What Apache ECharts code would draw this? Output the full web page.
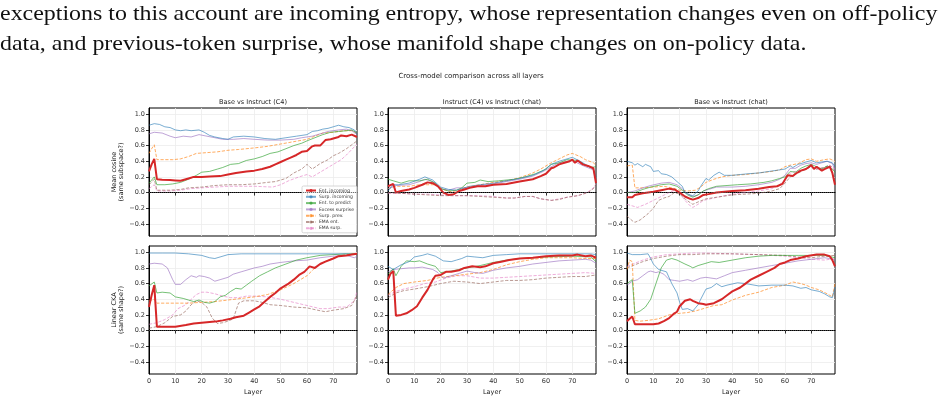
<!DOCTYPE html>
<html>
<head>
<meta charset="utf-8">
<script src="https://cdn.jsdelivr.net/npm/echarts@6/dist/echarts.min.js"></script>
<style>
  html, body { margin: 0; padding: 0; background: #fff; }
  #chart { width: 948px; height: 408px; }
</style>
</head>
<body>
<div id="chart"></div>
<script>
// ---- data: [layer, value] ----
const seriesNames = ['Ent. incoming', 'Surp. incoming', 'Ent. to predict', 'Excess surprise', 'Surp. prev.', 'EMA ent.', 'EMA surp.']
const panelTitles = ['Base vs Instruct (C4)', 'Instruct (C4) vs Instruct (chat)', 'Base vs Instruct (chat)']
const yTicks = [-0.4, -0.2, 0, 0.2, 0.4, 0.6, 0.8, 1.0]
const xTicks = [0, 10, 20, 30, 40, 50, 60, 70]

// Mean cosine, Base vs Instruct (C4)
const cos1_entIn = [[0,0.27],[1,0.36],[2,0.43],[3,0.17],[5,0.165],[8,0.16],[10,0.155],[12,0.15],[15,0.18],[17,0.2],[20,0.2],[23,0.205],[27,0.21],[30,0.23],[33,0.25],[37,0.27],[40,0.28],[43,0.3],[46,0.33],[48,0.36],[50,0.39],[52,0.42],[54,0.45],[56,0.48],[58,0.52],[60,0.53],[62,0.59],[63,0.6],[65,0.6],[67,0.67],[69,0.68],[71,0.7],[72,0.71],[73,0.73],[75,0.72],[77,0.74],[79,0.71]]
const cos1_surpIn = [[0,0.86],[2,0.88],[4,0.87],[6,0.84],[8,0.83],[10,0.8],[12,0.79],[14,0.8],[16,0.79],[19,0.8],[21,0.77],[23,0.73],[25,0.71],[28,0.69],[30,0.68],[32,0.71],[36,0.72],[40,0.71],[44,0.69],[48,0.68],[52,0.7],[56,0.72],[60,0.74],[62,0.78],[64,0.79],[66,0.81],[68,0.82],[70,0.84],[72,0.86],[74,0.84],[76,0.83],[78,0.8],[79,0.75]]
const cos1_entPred = [[0,0.12],[2,0.2],[3,0.1],[6,0.1],[9,0.11],[12,0.13],[15,0.17],[18,0.22],[20,0.26],[23,0.27],[26,0.3],[28,0.32],[31,0.36],[34,0.37],[37,0.41],[40,0.43],[43,0.46],[46,0.5],[49,0.52],[52,0.56],[55,0.6],[58,0.63],[60,0.66],[63,0.7],[66,0.74],[69,0.77],[72,0.78],[75,0.79],[77,0.8],[79,0.76]]
const cos1_excess = [[0,0.75],[2,0.77],[5,0.76],[8,0.72],[10,0.7],[13,0.72],[16,0.71],[19,0.74],[22,0.72],[25,0.7],[28,0.68],[32,0.68],[36,0.69],[40,0.68],[45,0.67],[50,0.67],[55,0.68],[58,0.7],[62,0.72],[65,0.75],[68,0.78],[72,0.8],[75,0.81],[77,0.79],[79,0.74]]
const cos1_surpPrev = [[0,0.5],[1,0.56],[2,0.61],[3,0.42],[6,0.42],[9,0.42],[12,0.43],[15,0.46],[18,0.5],[22,0.51],[26,0.52],[30,0.54],[34,0.55],[40,0.57],[45,0.59],[50,0.62],[55,0.65],[60,0.68],[63,0.72],[66,0.76],[70,0.77],[74,0.79],[77,0.79],[79,0.76]]
const cos1_emaEnt = [[0,0.1],[2,0.17],[3,0.03],[8,0.03],[12,0.04],[15,0.06],[20,0.07],[25,0.09],[30,0.1],[35,0.1],[40,0.11],[45,0.13],[48,0.14],[52,0.18],[55,0.25],[58,0.3],[60,0.36],[62,0.3],[65,0.37],[68,0.42],[70,0.47],[72,0.5],[75,0.56],[77,0.61],[79,0.66]]
const cos1_emaSurp = [[0,0.05],[2,0.1],[3,0.02],[8,0.02],[12,0.03],[16,0.05],[20,0.06],[25,0.07],[30,0.08],[40,0.08],[47,0.07],[50,0.1],[53,0.15],[57,0.2],[60,0.23],[62,0.2],[65,0.26],[68,0.32],[71,0.38],[73,0.42],[75,0.48],[77,0.55],[79,0.62]]

// Mean cosine, Instruct (C4) vs Instruct (chat)
const cos2_entIn = [[0,0.08],[2,0.11],[3,0.0],[5,0.02],[8,0.04],[10,0.06],[13,0.1],[15,0.13],[17,0.12],[19,0.08],[21,0.0],[23,-0.03],[25,-0.02],[27,0.02],[29,0.04],[31,0.06],[34,0.08],[37,0.08],[40,0.1],[45,0.11],[50,0.14],[55,0.17],[58,0.21],[60,0.24],[62,0.31],[63,0.32],[65,0.36],[67,0.38],[69,0.4],[70,0.42],[71,0.38],[72,0.41],[74,0.36],[76,0.34],[78,0.31],[79,0.12]]
const cos2_surpIn = [[0,0.02],[2,0.1],[4,0.1],[8,0.12],[12,0.17],[14,0.2],[17,0.16],[20,0.07],[23,0.04],[26,0.03],[28,0.05],[31,0.08],[35,0.1],[40,0.12],[45,0.15],[50,0.18],[55,0.22],[59,0.28],[62,0.36],[65,0.4],[68,0.43],[70,0.45],[73,0.4],[75,0.36],[78,0.3],[79,0.2]]
const cos2_entPred = [[0,0.17],[2,0.15],[5,0.12],[8,0.15],[12,0.15],[15,0.17],[18,0.12],[20,0.05],[23,0.02],[26,0.03],[28,0.06],[30,0.12],[33,0.13],[35,0.16],[38,0.14],[42,0.15],[48,0.17],[52,0.2],[56,0.24],[60,0.3],[62,0.36],[65,0.38],[68,0.42],[72,0.41],[75,0.35],[77,0.32],[79,0.33]]
const cos2_excess = [[0,0.05],[3,0.09],[8,0.1],[12,0.14],[14,0.17],[17,0.14],[20,0.05],[23,0.03],[26,0.06],[30,0.06],[35,0.09],[40,0.11],[45,0.14],[50,0.17],[55,0.21],[59,0.27],[62,0.33],[65,0.38],[70,0.41],[73,0.36],[75,0.33],[78,0.29],[79,0.15]]
const cos2_surpPrev = [[0,0.05],[3,0.08],[8,0.08],[12,0.1],[15,0.1],[18,0.1],[21,0.04],[24,0.01],[27,0.03],[30,0.07],[35,0.1],[40,0.13],[45,0.15],[50,0.19],[55,0.25],[58,0.3],[62,0.38],[65,0.43],[68,0.48],[70,0.5],[73,0.46],[75,0.42],[78,0.38],[79,0.35]]
const cos2_emaEnt = [[0,0.0],[5,-0.01],[10,-0.02],[15,-0.03],[20,-0.04],[25,-0.04],[30,-0.04],[35,-0.05],[40,-0.06],[45,-0.07],[48,-0.07],[52,-0.05],[55,-0.05],[58,-0.08],[62,-0.1],[65,-0.09],[68,-0.06],[72,-0.04],[74,-0.02],[76,0.0],[78,0.05],[79,0.1]]
const cos2_emaSurp = [[0,-0.01],[5,-0.01],[10,-0.02],[15,-0.02],[20,-0.03],[25,-0.04],[30,-0.04],[35,-0.04],[40,-0.05],[45,-0.07],[48,-0.07],[52,-0.05],[55,-0.05],[58,-0.08],[62,-0.1],[65,-0.08],[68,-0.06],[72,-0.04],[74,-0.02],[76,0.01],[78,0.06],[79,0.11]]

// Mean cosine, Base vs Instruct (chat)
const cos3_entIn = [[0,-0.06],[2,-0.06],[3,-0.03],[6,-0.01],[10,0.01],[13,0.03],[16,0.05],[18,0.04],[20,0.0],[22,-0.05],[24,-0.08],[25,-0.09],[27,-0.07],[29,-0.03],[31,-0.02],[34,0.0],[37,0.01],[40,0.02],[45,0.03],[50,0.05],[54,0.07],[57,0.08],[59,0.11],[61,0.22],[63,0.21],[64,0.24],[66,0.28],[68,0.3],[70,0.35],[71,0.3],[72,0.33],[74,0.28],[75,0.3],[77,0.33],[78,0.25],[79,0.1]]
const cos3_surpIn = [[0,0.4],[2,0.38],[3,0.35],[4,0.37],[6,0.33],[7,0.36],[9,0.33],[10,0.27],[12,0.28],[13,0.24],[15,0.23],[17,0.2],[19,0.14],[21,0.08],[22,0.0],[24,-0.03],[25,-0.04],[27,0.02],[28,0.08],[30,0.18],[31,0.16],[33,0.22],[35,0.26],[37,0.22],[40,0.22],[43,0.23],[46,0.24],[50,0.25],[54,0.27],[58,0.29],[60,0.3],[62,0.34],[63,0.32],[65,0.36],[68,0.39],[70,0.41],[72,0.38],[74,0.39],[76,0.4],[78,0.38],[79,0.33]]
const cos3_entPred = [[0,0.0],[3,0.0],[6,0.04],[9,0.07],[13,0.1],[16,0.11],[19,0.08],[21,0.03],[23,-0.03],[25,-0.06],[27,-0.03],[29,0.02],[31,0.05],[34,0.08],[38,0.09],[42,0.1],[47,0.11],[52,0.13],[55,0.15],[58,0.18],[60,0.2],[62,0.27],[64,0.26],[66,0.31],[68,0.34],[70,0.36],[72,0.33],[74,0.3],[76,0.34],[78,0.3],[79,0.26]]
const cos3_excess = [[0,0.0],[3,0.02],[6,0.06],[9,0.09],[13,0.12],[16,0.13],[19,0.1],[21,0.05],[23,-0.02],[25,-0.05],[27,-0.03],[29,0.02],[31,0.04],[34,0.07],[37,0.07],[40,0.07],[45,0.08],[50,0.1],[55,0.13],[58,0.17],[60,0.22],[62,0.31],[64,0.31],[66,0.35],[68,0.37],[70,0.38],[72,0.36],[74,0.38],[76,0.4],[78,0.37],[79,0.28]]
const cos3_surpPrev = [[0,0.34],[2,0.35],[3,0.06],[6,0.06],[10,0.07],[14,0.08],[17,0.06],[20,0.03],[23,0.02],[26,0.03],[28,0.07],[30,0.13],[33,0.17],[36,0.2],[40,0.22],[45,0.23],[50,0.25],[55,0.27],[58,0.29],[60,0.33],[62,0.35],[65,0.37],[68,0.42],[70,0.43],[72,0.4],[75,0.42],[77,0.43],[79,0.4]]
const cos3_emaEnt = [[0,-0.3],[2,-0.36],[3,-0.38],[5,-0.35],[8,-0.27],[10,-0.2],[12,-0.1],[14,-0.07],[16,-0.05],[18,0.0],[20,-0.02],[22,-0.08],[24,-0.13],[25,-0.15],[27,-0.12],[30,-0.08],[34,-0.06],[38,-0.04],[40,-0.03],[45,-0.02],[50,-0.01],[55,0.02],[58,0.05],[60,0.12],[62,0.2],[65,0.25],[68,0.3],[70,0.33],[72,0.3],[75,0.32],[77,0.35],[79,0.28]]
const cos3_emaSurp = [[0,-0.15],[2,-0.17],[4,-0.19],[7,-0.15],[10,-0.1],[13,-0.05],[16,0.0],[18,0.03],[20,0.0],[22,-0.1],[24,-0.17],[25,-0.19],[27,-0.15],[29,-0.1],[33,-0.07],[37,-0.04],[40,-0.02],[45,0.0],[50,0.02],[55,0.05],[58,0.1],[60,0.16],[62,0.25],[65,0.28],[68,0.3],[70,0.33],[72,0.3],[75,0.32],[77,0.35],[79,0.3]]

// Linear CKA, Base vs Instruct (C4)
const cka1_entIn = [[0,0.3],[1,0.45],[2,0.58],[3,0.05],[5,0.05],[10,0.05],[14,0.07],[17,0.09],[20,0.1],[23,0.11],[26,0.12],[28,0.13],[31,0.15],[33,0.17],[36,0.19],[38,0.23],[40,0.27],[42,0.31],[44,0.37],[46,0.43],[48,0.48],[50,0.54],[53,0.6],[55,0.65],[57,0.71],[59,0.75],[61,0.82],[63,0.8],[65,0.85],[67,0.88],[70,0.92],[72,0.95],[75,0.96],[77,0.97],[79,0.98]]
const cka1_surpIn = [[0,0.99],[5,0.99],[10,0.99],[15,0.98],[20,0.96],[23,0.93],[25,0.92],[27,0.94],[30,0.97],[35,0.98],[40,0.98],[50,0.98],[60,0.98],[70,0.98],[75,0.98],[79,0.97]]
const cka1_entPred = [[0,0.57],[2,0.62],[3,0.48],[5,0.49],[8,0.48],[10,0.43],[13,0.41],[15,0.39],[17,0.37],[19,0.39],[21,0.36],[23,0.35],[25,0.37],[27,0.43],[29,0.45],[31,0.5],[33,0.54],[35,0.53],[37,0.58],[39,0.63],[42,0.7],[45,0.75],[48,0.8],[52,0.85],[56,0.9],[60,0.93],[65,0.96],[70,0.97],[75,0.98],[79,0.98]]
const cka1_excess = [[0,0.85],[2,0.86],[5,0.85],[7,0.8],[9,0.65],[10,0.59],[12,0.59],[14,0.65],[16,0.7],[18,0.68],[19,0.7],[21,0.69],[23,0.67],[25,0.63],[27,0.65],[30,0.68],[32,0.72],[35,0.75],[38,0.78],[40,0.8],[43,0.82],[46,0.85],[50,0.87],[55,0.89],[60,0.9],[65,0.93],[70,0.95],[75,0.96],[78,0.93],[79,0.95]]
const cka1_surpPrev = [[0,0.38],[2,0.4],[3,0.35],[10,0.35],[15,0.35],[20,0.36],[25,0.37],[30,0.39],[35,0.41],[40,0.43],[45,0.46],[50,0.52],[55,0.6],[60,0.7],[63,0.8],[65,0.85],[68,0.9],[72,0.95],[75,0.97],[79,0.98]]
const cka1_emaEnt = [[0,0.03],[3,0.05],[6,0.1],[9,0.18],[12,0.2],[14,0.25],[16,0.33],[18,0.38],[20,0.36],[22,0.3],[24,0.16],[26,0.09],[28,0.1],[30,0.12],[32,0.15],[34,0.35],[36,0.38],[40,0.38],[43,0.36],[46,0.33],[50,0.32],[55,0.3],[60,0.29],[64,0.26],[67,0.24],[70,0.26],[74,0.28],[77,0.32],[79,0.45]]
const cka1_emaSurp = [[0,0.08],[3,0.1],[6,0.14],[9,0.2],[11,0.28],[14,0.33],[16,0.4],[18,0.46],[20,0.49],[22,0.49],[25,0.47],[28,0.44],[31,0.42],[34,0.42],[37,0.44],[40,0.44],[45,0.43],[50,0.4],[55,0.36],[60,0.32],[65,0.28],[68,0.28],[72,0.3],[75,0.3],[78,0.38],[79,0.5]]

// Linear CKA, Instruct (C4) vs Instruct (chat)
const cka2_entIn = [[0,0.65],[1,0.73],[2,0.76],[3,0.19],[5,0.2],[7,0.22],[9,0.26],[11,0.31],[13,0.42],[15,0.52],[17,0.65],[18,0.7],[20,0.71],[22,0.75],[24,0.75],[27,0.77],[29,0.8],[32,0.82],[35,0.81],[37,0.82],[40,0.86],[43,0.88],[46,0.9],[50,0.92],[55,0.93],[60,0.95],[65,0.96],[70,0.96],[72,0.97],[75,0.95],[77,0.96],[79,0.93]]
const cka2_surpIn = [[0,0.82],[2,0.78],[3,0.8],[5,0.84],[8,0.88],[10,0.94],[13,0.96],[15,0.98],[18,0.95],[21,0.89],[24,0.88],[26,0.9],[28,0.92],[30,0.95],[33,0.94],[36,0.93],[40,0.96],[45,0.97],[50,0.98],[60,0.98],[70,0.98],[77,0.98],[79,0.97]]
const cka2_entPred = [[0,0.72],[2,0.79],[3,0.7],[5,0.82],[7,0.89],[10,0.88],[12,0.89],[15,0.85],[18,0.82],[20,0.74],[24,0.76],[27,0.78],[30,0.8],[35,0.83],[40,0.87],[45,0.9],[50,0.92],[55,0.93],[60,0.94],[70,0.95],[77,0.94],[79,0.88]]
const cka2_excess = [[0,0.75],[2,0.78],[5,0.79],[8,0.8],[10,0.8],[13,0.81],[17,0.78],[19,0.74],[21,0.67],[24,0.7],[27,0.73],[30,0.76],[33,0.74],[36,0.73],[40,0.77],[45,0.8],[50,0.82],[55,0.85],[60,0.87],[65,0.89],[70,0.9],[75,0.91],[77,0.9],[79,0.86]]
const cka2_surpPrev = [[0,0.46],[3,0.55],[6,0.6],[10,0.62],[15,0.64],[20,0.68],[25,0.7],[30,0.72],[35,0.74],[40,0.78],[45,0.84],[50,0.88],[55,0.91],[60,0.93],[65,0.93],[70,0.93],[75,0.92],[79,0.92]]
const cka2_emaEnt = [[0,0.42],[3,0.48],[6,0.51],[10,0.53],[15,0.56],[20,0.6],[25,0.63],[30,0.62],[35,0.6],[40,0.62],[45,0.64],[50,0.64],[55,0.65],[60,0.67],[65,0.68],[70,0.69],[75,0.69],[79,0.71]]
const cka2_emaSurp = [[0,0.45],[3,0.5],[6,0.53],[10,0.56],[14,0.6],[18,0.62],[22,0.67],[26,0.7],[30,0.7],[35,0.67],[40,0.67],[45,0.68],[50,0.69],[55,0.7],[60,0.71],[65,0.72],[70,0.73],[75,0.74],[79,0.73]]

// Linear CKA, Base vs Instruct (chat)
const cka3_entIn = [[0,0.12],[1,0.15],[2,0.18],[3,0.08],[5,0.08],[8,0.08],[10,0.08],[12,0.09],[14,0.12],[16,0.16],[18,0.22],[19,0.24],[20,0.31],[22,0.38],[24,0.4],[25,0.38],[27,0.35],[29,0.34],[30,0.33],[33,0.35],[36,0.4],[38,0.45],[40,0.5],[43,0.55],[45,0.6],[47,0.65],[50,0.7],[53,0.75],[56,0.8],[58,0.85],[60,0.87],[62,0.9],[65,0.92],[68,0.95],[72,0.97],[75,0.97],[77,0.95],[78,0.9],[79,0.82]]
const cka3_surpIn = [[0,0.99],[2,0.97],[5,0.97],[8,0.98],[9,0.92],[10,0.85],[12,0.78],[15,0.75],[17,0.6],[19,0.48],[20,0.36],[21,0.27],[23,0.28],[25,0.25],[27,0.33],[28,0.4],[30,0.53],[32,0.55],[34,0.6],[36,0.56],[38,0.58],[42,0.61],[45,0.6],[50,0.57],[55,0.58],[60,0.58],[63,0.57],[66,0.54],[68,0.55],[70,0.52],[73,0.5],[75,0.47],[77,0.43],[78,0.42],[79,0.55]]
const cka3_entPred = [[0,0.6],[2,0.65],[3,0.22],[5,0.25],[7,0.3],[9,0.4],[11,0.6],[13,0.8],[15,0.9],[17,0.92],[19,0.9],[22,0.85],[24,0.82],[25,0.8],[27,0.83],[30,0.86],[32,0.88],[35,0.87],[40,0.9],[45,0.93],[50,0.95],[55,0.96],[60,0.96],[65,0.96],[70,0.96],[75,0.96],[79,0.93]]
const cka3_excess = [[0,0.58],[2,0.63],[4,0.65],[6,0.7],[8,0.75],[9,0.76],[11,0.74],[12,0.75],[14,0.72],[16,0.65],[18,0.64],[20,0.63],[23,0.65],[25,0.63],[28,0.67],[30,0.68],[34,0.66],[37,0.7],[40,0.74],[45,0.77],[50,0.8],[55,0.83],[60,0.86],[65,0.89],[70,0.91],[75,0.93],[77,0.92],[79,0.9]]
const cka3_surpPrev = [[0,0.78],[1,0.9],[2,0.88],[3,0.13],[5,0.12],[8,0.13],[12,0.15],[16,0.2],[20,0.22],[23,0.23],[26,0.25],[30,0.29],[33,0.32],[36,0.33],[40,0.39],[45,0.45],[50,0.49],[55,0.55],[60,0.58],[63,0.62],[66,0.6],[68,0.58],[70,0.55],[73,0.52],[76,0.47],[78,0.43],[79,0.6]]
const cka3_emaEnt = [[0,0.8],[3,0.84],[6,0.88],[10,0.92],[15,0.95],[20,0.97],[25,0.97],[30,0.98],[40,0.98],[50,0.97],[60,0.96],[65,0.94],[70,0.93],[75,0.95],[79,0.96]]
const cka3_emaSurp = [[0,0.82],[3,0.86],[6,0.9],[10,0.94],[15,0.97],[20,0.98],[25,0.99],[30,0.99],[40,0.98],[50,0.97],[60,0.95],[65,0.93],[70,0.91],[75,0.9],[79,0.92]]

const panelData = [
  [cos1_entIn, cos1_surpIn, cos1_entPred, cos1_excess, cos1_surpPrev, cos1_emaEnt, cos1_emaSurp],
  [cos2_entIn, cos2_surpIn, cos2_entPred, cos2_excess, cos2_surpPrev, cos2_emaEnt, cos2_emaSurp],
  [cos3_entIn, cos3_surpIn, cos3_entPred, cos3_excess, cos3_surpPrev, cos3_emaEnt, cos3_emaSurp],
  [cka1_entIn, cka1_surpIn, cka1_entPred, cka1_excess, cka1_surpPrev, cka1_emaEnt, cka1_emaSurp],
  [cka2_entIn, cka2_surpIn, cka2_entPred, cka2_excess, cka2_surpPrev, cka2_emaEnt, cka2_emaSurp],
  [cka3_entIn, cka3_surpIn, cka3_entPred, cka3_excess, cka3_surpPrev, cka3_emaEnt, cka3_emaSurp]
]

// ---- styles ----
const FONT = 'DejaVu Sans'
const dash = [3.2, 1.6]
const lineStyles = [
  { color: '#d62728', width: 2, type: 'solid', opacity: 1 },
  { color: '#1f77b4', width: 1, type: 'solid', opacity: 0.6 },
  { color: '#2ca02c', width: 1, type: 'solid', opacity: 0.65 },
  { color: '#9467bd', width: 1, type: 'solid', opacity: 0.6 },
  { color: '#ff7f0e', width: 1, type: dash, opacity: 0.65 },
  { color: '#8c564b', width: 1, type: dash, opacity: 0.6 },
  { color: '#e377c2', width: 1, type: dash, opacity: 0.6 }
]

const colLeft = [149, 388, 627]
const rowTop = [108, 246]
const plotW = 208
const plotH = 128

const grids = []
const xAxes = []
const yAxes = []
const series = []

for (let p = 0; p < 6; p++) {
  const row = Math.floor(p / 3)
  const col = p % 3
  grids.push({
    left: colLeft[col], top: rowTop[row], width: plotW, height: plotH,
    show: true, borderColor: '#000', borderWidth: 1, backgroundColor: 'transparent'
  })
  xAxes.push({
    gridIndex: p, type: 'value', min: 0, max: 79,
    name: row === 1 ? 'Layer' : '', nameLocation: 'middle', nameGap: 15,
    nameTextStyle: { fontFamily: FONT, fontSize: 6.5, color: '#222' },
    axisLine: { show: true, lineStyle: { color: '#000', width: 1 } },
    axisTick: { show: true, length: 3, customValues: xTicks, lineStyle: { color: '#000', width: 0.8 } },
    axisLabel: { show: row === 1, customValues: xTicks, fontFamily: FONT, fontSize: 6.5, color: '#333', margin: 4 },
    splitLine: { show: true, lineStyle: { color: '#ececec', width: 0.8 } }
  })
  yAxes.push({
    gridIndex: p, type: 'value', min: -0.555, max: 1.08,
    name: col === 0 ? (row === 0 ? 'Mean cosine\n(same subspace?)' : 'Linear CKA\n(same shape?)') : '',
    nameLocation: 'middle', nameRotate: 90, nameGap: 15,
    nameTextStyle: { fontFamily: FONT, fontSize: 6.5, lineHeight: 7.5, color: '#222' },
    axisLine: { show: true, lineStyle: { color: '#000', width: 1 } },
    axisTick: { show: true, length: 3, customValues: yTicks, lineStyle: { color: '#000', width: 0.8 } },
    axisLabel: {
      show: true, customValues: yTicks, fontFamily: FONT, fontSize: 6.5, color: '#333', margin: 4,
      formatter: v => (v < 0 ? '\u2212' + Math.abs(v).toFixed(1) : v.toFixed(1))
    },
    splitLine: { show: true, lineStyle: { color: '#ececec', width: 0.8 } }
  })

  // draw order: thin ones first, red on top
  for (let s = 6; s >= 0; s--) {
    const st = lineStyles[s]
    series.push({
      name: seriesNames[s], type: 'line', xAxisIndex: p, yAxisIndex: p,
      data: panelData[p][s], symbol: 'none', smooth: false,
      z: s === 0 ? 4 : 3,
      itemStyle: { color: st.color, opacity: st.opacity },
      lineStyle: { color: st.color, width: st.width, type: st.type, opacity: st.opacity },
      emphasis: { disabled: true },
      markLine: s === 6 ? {
        silent: true, symbol: ['none', 'none'], label: { show: false },
        lineStyle: { color: '#555', type: [1, 1], width: 0.8, opacity: 1 },
        data: [{ yAxis: 0 }]
      } : undefined
    })
  }
}

const paraStyle = { fontFamily: 'Liberation Serif', fontSize: 21, fill: '#111', verticalAlign: 'middle', align: 'left' }
const graphics = [
  { type: 'text', x: 0, y: 14, scaleX: 1.14, style: Object.assign({ text: 'exceptions to this account are incoming entropy, whose representation changes even on off-policy' }, paraStyle) },
  { type: 'text', x: 0, y: 44, scaleX: 1.14, style: Object.assign({ text: 'data, and previous-token surprise, whose manifold shape changes on on-policy data.' }, paraStyle) },
  { type: 'text', x: 471, y: 76, style: { text: 'Cross-model comparison across all layers', fontFamily: FONT, fontSize: 7, fill: '#222', align: 'center', verticalAlign: 'middle' } }
]
panelTitles.forEach((t, i) => {
  graphics.push({ type: 'text', x: colLeft[i] + plotW / 2, y: 102, style: { text: t, fontFamily: FONT, fontSize: 6.5, fill: '#222', align: 'center', verticalAlign: 'middle' } })
})

const chart = echarts.init(document.getElementById('chart'), null, { renderer: 'canvas' })
chart.setOption({
  animation: false,
  backgroundColor: '#fff',
  textStyle: { fontFamily: FONT },
  grid: grids,
  xAxis: xAxes,
  yAxis: yAxes,
  legend: {
    data: seriesNames, orient: 'vertical', left: 302, top: 186,
    itemWidth: 10, itemHeight: 4, itemGap: 1.3, padding: [2, 3, 2, 3],
    backgroundColor: 'rgba(255,255,255,0.85)', borderColor: '#ccc', borderWidth: 0.8, borderRadius: 1.5,
    selectedMode: false,
    textStyle: { fontFamily: FONT, fontSize: 4.5, color: '#333', padding: [0, 0, 0, -2] }
  },
  graphic: graphics,
  series: series
})
</script>
</body>
</html>
